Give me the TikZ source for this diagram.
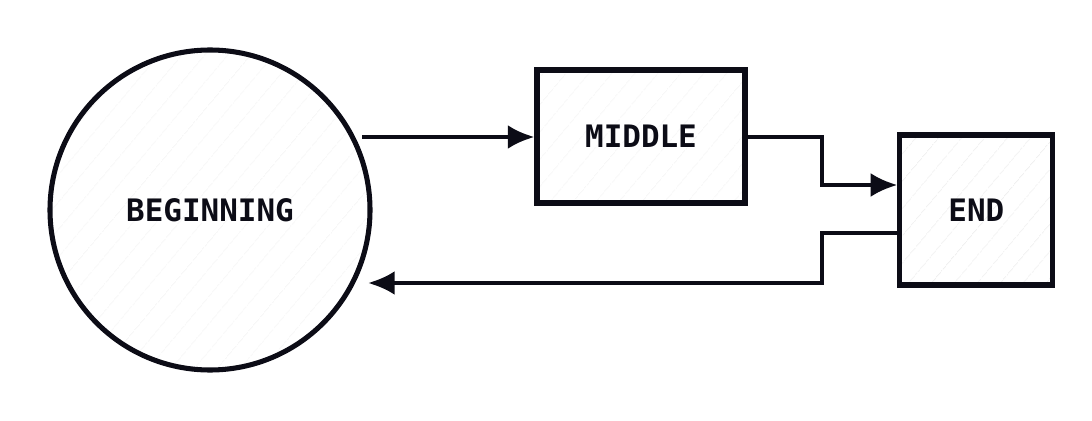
\documentclass[tikz,border=0pt]{standalone}
\usepackage{fontspec}
\newfontfamily\labelfont{DejaVu Sans Mono}
\usepackage{tikz}
\usetikzlibrary{arrows.meta}
\usetikzlibrary{patterns.meta}

\definecolor{ink}{HTML}{0C0C16}

\tikzset{
  shape box/.style={draw=ink, line width=3.6pt, inner sep=0pt,
    pattern={Lines[angle=50, distance=13pt, line width=0.4pt]}, pattern color=gray!18,
    font=\labelfont\bfseries\fontsize{22}{26}\selectfont, text=ink},
  flow/.style={draw=ink, line width=2.8pt, -{Latex[length=19pt, width=17pt]}}
}

\begin{document}
\begin{tikzpicture}
    \useasboundingbox (0, 0) rectangle (27.3, 10.5);
    \node[shape box, circle, minimum size=8cm] (beg) at (5.25, 5.25) {BEGINNING};
    \node[shape box, rectangle, minimum width=5.2cm, minimum height=3.325cm] (mid) at (16.025, 7.0875) {MIDDLE};
    \node[shape box, rectangle, minimum width=3.825cm, minimum height=3.75cm] (end) at (24.41, 5.25) {END};
    \coordinate (elbow) at (20.55, 0);
    \coordinate (start) at (9.05, 7.075);
    \coordinate (back) at (9.2, 3.425);
    \draw[flow] (start) -- (start -| mid.west);
    \draw[flow] (mid.east |- start) -| (elbow |- 0, 7.075) |- ([yshift=0.625cm]end.west);
    \draw[flow] ([yshift=-0.575cm]end.west) -| (elbow |- 0, 3.425) -- (back);
  \end{tikzpicture}
\end{document}
